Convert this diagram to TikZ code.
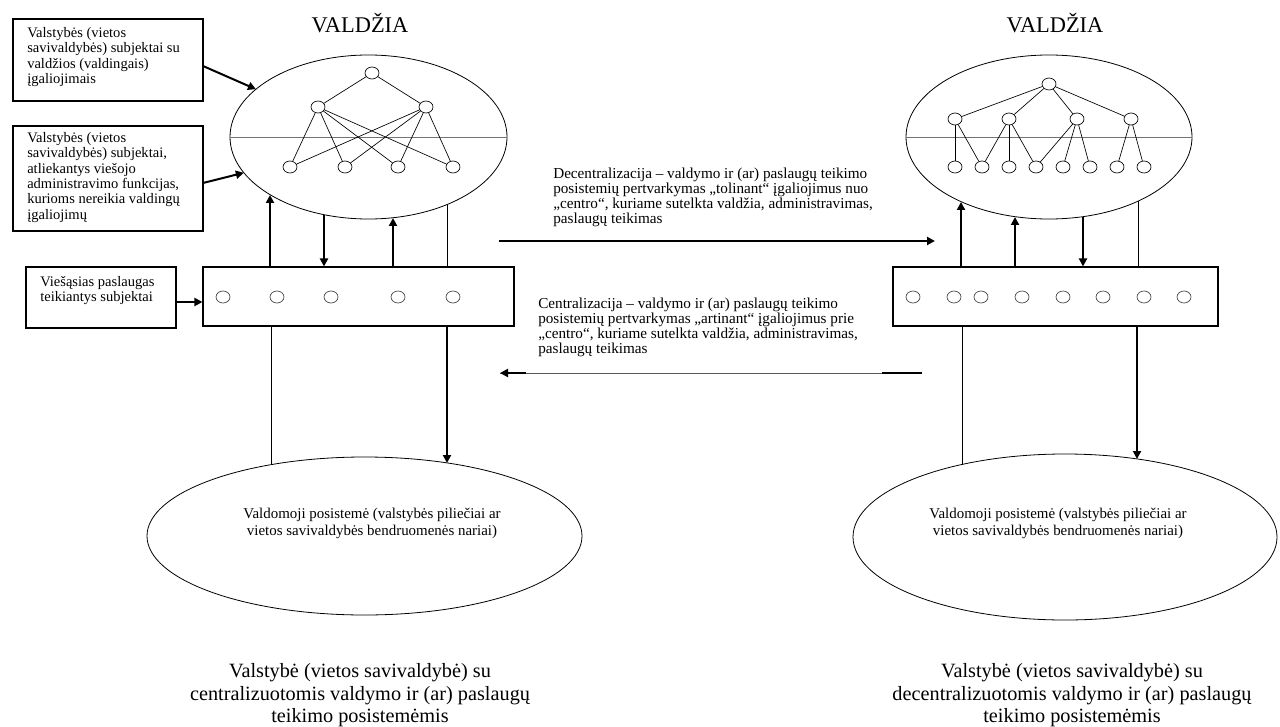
\documentclass[tikz,border=0pt]{standalone}
\usepackage{fontspec}
\setmainfont{Liberation Serif}
\usetikzlibrary{shapes.geometric,arrows.meta}
\begin{document}
\begin{tikzpicture}[x=0.75pt,y=-0.75pt,
  big/.style={draw, ellipse, line width=0.6pt, inner sep=0pt, outer sep=0pt},
  dot/.style={draw, ellipse, minimum width=10.5pt, minimum height=9pt, inner sep=0pt, line width=0.5pt},
  bdot/.style={dot, draw=black!75},
  treeline/.style={line width=0.5pt},
  midline/.style={draw=black!55, line width=0.6pt},
  thinline/.style={line width=0.7pt},
  arr/.style={line width=1.5pt, -{Triangle[length=6pt,width=6pt]}},
  frame/.style={draw, line width=1.3pt, inner sep=0pt},
  panel/.style={draw, line width=0.8pt, inner sep=0pt},
  lbl/.style={font=\fontsize{10.9pt}{11.5pt}\selectfont, align=left, inner sep=0pt, anchor=north west},
  mlbl/.style={font=\fontsize{11.4pt}{11.2pt}\selectfont, align=left, inner sep=0pt, anchor=north west},
  elbl/.style={font=\fontsize{11.2pt}{12.75pt}\selectfont, align=center, inner sep=0pt},
  captxt/.style={font=\fontsize{15.2pt}{16.9pt}\selectfont, align=center, inner sep=0pt},
  headtxt/.style={font=\fontsize{16.8pt}{18pt}\selectfont, inner sep=0pt, anchor=base}
]
\useasboundingbox (0,0) rectangle (1280,727);

% ---------- left side ----------
\node[big, minimum width=207.75pt, minimum height=123pt] (LE) at (368.5,137) {};
\draw[midline] (LE.west) -- (LE.east);
\node[headtxt] (V1) at (360,33) {VALDŽIA};

\node[dot] (lt) at (372,73) {};
\node[dot] (l1) at (318,107) {};
\node[dot] (l2) at (426,107) {};
\node[dot] (lb1) at (290,167) {};
\node[dot] (lb2) at (345,167) {};
\node[dot] (lb3) at (398,167) {};
\node[dot] (lb4) at (453,167) {};
\draw[treeline] (lt) -- (l1);
\draw[treeline] (lt) -- (l2);
\foreach \a in {l1,l2}{\foreach \b in {lb1,lb2,lb3,lb4}{\draw[treeline] (\a) -- (\b);}}

\node[frame, minimum width=142.5pt, minimum height=61.5pt] (B1) at (108,60) {};
\node[frame, minimum width=142.5pt, minimum height=78.75pt] (B2) at (108,178.5) {};
\node[frame, minimum width=112.5pt, minimum height=45.75pt] (B3) at (101,297.5) {};
\node[lbl] (T1) at (27,27) {Valstybės (vietos\\savivaldybės) subjektai su\\valdžios (valdingais)\\įgaliojimais};
\node[lbl] (T2) at (27,132) {Valstybės (vietos\\savivaldybės) subjektai,\\atliekantys viešojo\\administravimo funkcijas,\\kurioms nereikia valdingų\\įgaliojimų};
\node[lbl] (T3) at (40,276) {Viešąsias paslaugas\\teikiantys subjektai};

\coordinate (s1) at (203,66);
\coordinate (s2) at (203,183);
\draw[arr] (s1) -- (LE.157);
\draw[arr] (s2) -- (LE.196);

\node[panel, minimum width=233.25pt, minimum height=44.25pt] (LB) at (358.5,296.5) {};
\foreach \x [count=\i] in {223,277,331,398,453}{\node[bdot] (lp\i) at (\x,297) {};}
\draw[arr] (B3.east |- 0,302) -- (LB.west |- 0,302);

\coordinate (lu1) at (270,195);
\coordinate (ld1) at (324,215);
\coordinate (lu2) at (393,218);
\coordinate (lt1) at (447,205);
\draw[arr] (LB.north -| lu1) -- (lu1);
\draw[arr] (ld1) -- (LB.north -| ld1);
\draw[arr] (LB.north -| lu2) -- (lu2);
\draw[thinline] (lt1) -- (LB.north -| lt1);

\node[big, minimum width=326.25pt, minimum height=118.5pt] (BL) at (364.5,536) {};
\node[elbl] (BLT) at (372,523.5) {Valdomoji posistemė (valstybės piliečiai ar\\vietos savivaldybės bendruomenės nariai)};
\coordinate (lb) at (271,464.7);
\coordinate (la) at (447,463);
\draw[thinline] (LB.south -| lb) -- (lb);
\draw[arr] (LB.south -| la) -- (la);

\node[captxt] (C1) at (360,695.5) {Valstybė (vietos savivaldybė) su\\centralizuotomis valdymo ir (ar) paslaugų\\teikimo posistemėmis};

% ---------- middle ----------
\node[mlbl] (DEC) at (553,168) {Decentralizacija – valdymo ir (ar) paslaugų teikimo\\posistemių pertvarkymas „tolinant“ įgaliojimus nuo\\„centro“, kuriame sutelkta valdžia, administravimas,\\paslaugų teikimas};
\coordinate (d1) at (499,241);
\coordinate (d2) at (935,241);
\draw[arr] (d1) -- (d2);

\node[mlbl] (CEN) at (538,298) {Centralizacija – valdymo ir (ar) paslaugų teikimo\\posistemių pertvarkymas „artinant“ įgaliojimus prie\\„centro“, kuriame sutelkta valdžia, administravimas,\\paslaugų teikimas};
\coordinate (c1) at (922,373);
\coordinate (c2) at (500,373);
\coordinate (c3) at (882,373);
\coordinate (c4) at (526,373);
\draw[draw=black!65, line width=0.7pt] (c1) -- (c2);
\draw[line width=1.5pt] (c1) -- (c3);
\draw[arr] (c4) -- (c2);

% ---------- right side ----------
\node[big, minimum width=214.5pt, minimum height=123pt] (RE) at (1049,137) {};
\draw[midline] (RE.west) -- (RE.east);
\node[headtxt] (V2) at (1055,33) {VALDŽIA};

\node[dot] (rt) at (1049,84) {};
\foreach \x [count=\i] in {955,1009,1077,1131}{\node[dot] (r\i) at (\x,119) {};}
\foreach \x [count=\i] in {955,982,1009,1036,1063,1090,1117,1144}{\node[dot] (rb\i) at (\x,167) {};}
\foreach \i in {1,2,3,4}{\draw[treeline] (rt) -- (r\i);}
\draw[treeline] (r1) -- (rb1);
\draw[treeline] (r1) -- (rb2);
\draw[treeline] (r2) -- (rb2);
\draw[treeline] (r2) -- (rb3);
\draw[treeline] (r2) -- (rb4);
\draw[treeline] (r3) -- (rb4);
\draw[treeline] (r3) -- (rb5);
\draw[treeline] (r3) -- (rb6);
\draw[treeline] (r4) -- (rb7);
\draw[treeline] (r4) -- (rb8);

\node[panel, minimum width=243.75pt, minimum height=44.25pt] (RB) at (1055.5,296.5) {};
\foreach \x [count=\i] in {913,954,981,1022,1063,1103,1144,1184}{\node[bdot] (rp\i) at (\x,297) {};}

\coordinate (ru1) at (961,202);
\coordinate (ru2) at (1015,217);
\coordinate (rd1) at (1083,217);
\coordinate (rt1) at (1138,201);
\draw[arr] (RB.north -| ru1) -- (ru1);
\draw[arr] (RB.north -| ru2) -- (ru2);
\draw[arr] (rd1) -- (RB.north -| rd1);
\draw[thinline] (rt1) -- (RB.north -| rt1);

\node[big, minimum width=318pt, minimum height=124.5pt] (BR) at (1065,537) {};
\node[elbl] (BRT) at (1058,523.5) {Valdomoji posistemė (valstybės piliečiai ar\\vietos savivaldybės bendruomenės nariai)};
\coordinate (rb) at (962,464.5);
\coordinate (ra) at (1137,459);
\draw[thinline] (RB.south -| rb) -- (rb);
\draw[arr] (RB.south -| ra) -- (ra);

\node[captxt] (C2) at (1072,695.5) {Valstybė (vietos savivaldybė) su\\decentralizuotomis valdymo ir (ar) paslaugų\\teikimo posistemėmis};
\end{tikzpicture}
\end{document}
